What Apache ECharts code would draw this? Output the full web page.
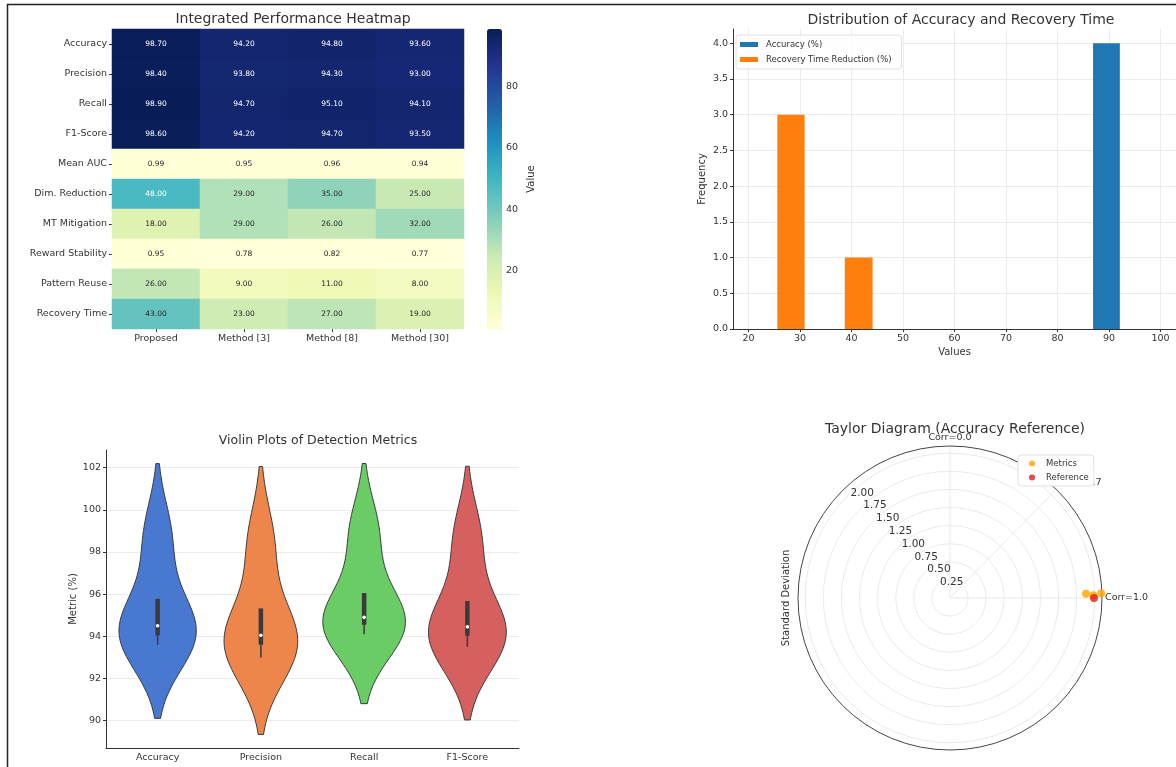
<!DOCTYPE html>
<html>
<head>
<meta charset="utf-8">
<script src="https://cdn.jsdelivr.net/npm/echarts@6/dist/echarts.min.js"></script>
<style>
  html, body { margin: 0; padding: 0; background: #fff; }
  #chart { width: 1176px; height: 767px; }
</style>
</head>
<body>
<div id="chart"></div>
<script>
// ---- heatmap data ----
const methods = ['Proposed', 'Method [3]', 'Method [8]', 'Method [30]'];
const metricRows = ['Accuracy', 'Precision', 'Recall', 'F1-Score', 'Mean AUC', 'Dim. Reduction',
  'MT Mitigation', 'Reward Stability', 'Pattern Reuse', 'Recovery Time'];
const accuracy = [98.7, 94.2, 94.8, 93.6];
const precision = [98.4, 93.8, 94.3, 93.0];
const recall = [98.9, 94.7, 95.1, 94.1];
const f1Score = [98.6, 94.2, 94.7, 93.5];
const meanAuc = [0.99, 0.95, 0.96, 0.94];
const dimReduction = [48, 29, 35, 25];
const mtMitigation = [18, 29, 26, 32];
const rewardStability = [0.95, 0.78, 0.82, 0.77];
const patternReuse = [26, 9, 11, 8];
const recoveryTime = [43, 23, 27, 19];
const colorbarTicks = [20, 40, 60, 80];

// ---- histogram data: [left edge, right edge, count] ----
const accuracyBins = [[86.9, 92.1, 4]];
const recoveryBins = [[25.6, 30.9, 3], [38.7, 44.1, 1]];
const histXTicks = [20, 30, 40, 50, 60, 70, 80, 90, 100];
const histYTicks = [0, 0.5, 1, 1.5, 2, 2.5, 3, 3.5, 4];

// ---- violin data (samples are the heatmap columns) ----
const violinNames = ['Accuracy', 'Precision', 'Recall', 'F1-Score'];
const violinYTicks = [90, 92, 94, 96, 98, 100, 102];

// ---- taylor diagram ----
const taylorMetricStd = [2.09, 1.88, 1.98];
const taylorMetricCorr = [0.9995, 0.9995, 0.9998];
const taylorRefStd = [1.99];
const taylorRefCorr = [1.0];
const corrTicks = [0.0, 0.7, 1.0];
const stdTicks = [0.25, 0.5, 0.75, 1.0, 1.25, 1.5, 1.75, 2.0];

const YlGnBu = ['#ffffd9', '#edf8b1', '#c7e9b4', '#7fcdbb', '#41b6c4', '#1d91c0', '#225ea8', '#253494', '#081d58'];
const violinColors = ['#4878d0', '#ee854a', '#6acc64', '#d65f5f'];
const FONT = 'DejaVu Sans';

function hexToRgb(h) { return [1, 3, 5].map(i => parseInt(h.slice(i, i + 2), 16)); }
function cmap(t) {
  t = Math.max(0, Math.min(1, t));
  const s = t * (YlGnBu.length - 1);
  const i = Math.min(Math.floor(s), YlGnBu.length - 2);
  const f = s - i;
  const a = hexToRgb(YlGnBu[i]), b = hexToRgb(YlGnBu[i + 1]);
  return a.map((v, k) => v + (b[k] - v) * f);
}
function luminance(rgb) {
  const c = rgb.map(v => { v /= 255; return v <= 0.03928 ? v / 12.92 : Math.pow((v + 0.055) / 1.055, 2.4); });
  return 0.2126 * c[0] + 0.7152 * c[1] + 0.0722 * c[2];
}

const heatRows = [accuracy, precision, recall, f1Score, meanAuc, dimReduction, mtMitigation,
  rewardStability, patternReuse, recoveryTime];
const allHeat = heatRows.flat();
const heatMin = Math.min(...allHeat), heatMax = Math.max(...allHeat);
const heatData = [];
heatRows.forEach((row, r) => row.forEach((v, c) => {
  const lum = luminance(cmap((v - heatMin) / (heatMax - heatMin)));
  heatData.push({ value: [c, r, v], label: { color: lum > 0.408 ? '#262626' : '#ffffff' } });
}));

// kde like seaborn violinplot (scott bandwidth, cut=2, gridsize=100)
function percentile(sorted, p) {
  const idx = (sorted.length - 1) * p;
  const lo = Math.floor(idx), hi = Math.ceil(idx);
  return sorted[lo] + (sorted[hi] - sorted[lo]) * (idx - lo);
}
function violinStat(sample) {
  const n = sample.length;
  const mean = sample.reduce((a, b) => a + b, 0) / n;
  const sd = Math.sqrt(sample.reduce((a, b) => a + (b - mean) * (b - mean), 0) / (n - 1));
  const bw = Math.pow(n, -1 / 5) * sd;
  const sorted = sample.slice().sort((a, b) => a - b);
  const lo = sorted[0] - 2 * bw, hi = sorted[n - 1] + 2 * bw;
  const support = [], density = [];
  for (let k = 0; k < 100; k++) {
    const y = lo + (hi - lo) * k / 99;
    let d = 0;
    sample.forEach(x => { d += Math.exp(-0.5 * Math.pow((y - x) / bw, 2)); });
    support.push(y);
    density.push(d / (n * bw * Math.sqrt(2 * Math.PI)));
  }
  const q1 = percentile(sorted, 0.25), q3 = percentile(sorted, 0.75);
  const iqr = q3 - q1;
  const w1 = Math.min(...sorted.filter(v => v >= q1 - 1.5 * iqr));
  const w2 = Math.max(...sorted.filter(v => v <= q3 + 1.5 * iqr));
  return { support, density, q1, q3, median: percentile(sorted, 0.5), w1, w2, lo, hi };
}
const violinStats = [accuracy, precision, recall, f1Score].map(violinStat);
const maxDensity = Math.max(...violinStats.map(s => Math.max(...s.density)));
const vLo = Math.min(...violinStats.map(s => s.lo)), vHi = Math.max(...violinStats.map(s => s.hi));
const vPad = (vHi - vLo) * 0.05;

const toDeg = c => Math.acos(Math.min(1, c)) * 180 / Math.PI;

const axisText = { color: '#333', fontFamily: FONT };
const gridLine = { show: true, lineStyle: { color: '#ebebeb', width: 1 } };

const chart = echarts.init(document.getElementById('chart'));
chart.setOption({
  animation: false,
  textStyle: { fontFamily: FONT },
  title: [
    { text: 'Integrated Performance Heatmap', left: 288, top: 7, textAlign: 'center',
      textStyle: { fontSize: 14, fontWeight: 'normal', color: '#333', fontFamily: FONT } },
    { text: 'Distribution of Accuracy and Recovery Time', left: 956, top: 8, textAlign: 'center',
      textStyle: { fontSize: 14, fontWeight: 'normal', color: '#333', fontFamily: FONT } },
    { text: 'Violin Plots of Detection Metrics', left: 313, top: 429, textAlign: 'center',
      textStyle: { fontSize: 12.5, fontWeight: 'normal', color: '#333', fontFamily: FONT } },
    { text: 'Taylor Diagram (Accuracy Reference)', left: 950, top: 417, textAlign: 'center',
      textStyle: { fontSize: 14, fontWeight: 'normal', color: '#333', fontFamily: FONT } }
  ],
  legend: [
    { data: ['Accuracy (%)', 'Recovery Time Reduction (%)'], orient: 'vertical', left: 736, top: 35,
      icon: 'rect', itemWidth: 18, itemHeight: 5, itemGap: 6, padding: [5, 10, 5, 4],
      backgroundColor: 'rgba(255,255,255,0.85)', borderColor: '#e0e0e0', borderWidth: 1, borderRadius: 3,
      textStyle: { fontSize: 8.5, color: '#333', fontFamily: FONT, padding: [0, 0, 0, 3] } },
    { data: ['Metrics', 'Reference'], orient: 'vertical', left: 1018, top: 455,
      icon: 'circle', itemWidth: 6, itemHeight: 6, itemGap: 5, padding: [4, 5, 4, 11],
      backgroundColor: '#fff', borderColor: '#e0e0e0', borderWidth: 1, borderRadius: 3,
      textStyle: { fontSize: 8.5, color: '#333', fontFamily: FONT, padding: [0, 0, 0, 6] } }
  ],
  visualMap: {
    type: 'continuous', min: heatMin, max: heatMax, seriesIndex: 0, dimension: 2,
    inRange: { color: YlGnBu }, left: 487, top: 29, itemWidth: 15, itemHeight: 300,
    padding: 0, calculable: false, hoverLink: false, text: null
  },
  grid: [
    { left: 112, top: 29, width: 352, height: 300 },
    { left: 487, top: 29, width: 15, height: 300 },
    { left: 733, top: 29, width: 448, height: 300 },
    { left: 106, top: 450, width: 413, height: 298 }
  ],
  xAxis: [
    { type: 'category', gridIndex: 0, data: methods, axisLine: { show: false },
      axisTick: { show: true, alignWithLabel: true, length: 3, lineStyle: { color: '#333' } },
      axisLabel: Object.assign({ fontSize: 9.5, margin: 5 }, axisText) },
    { type: 'value', gridIndex: 1, show: false, min: 0, max: 1 },
    { type: 'value', gridIndex: 2, min: 17, max: 103,
      axisLine: { lineStyle: { color: '#333' } },
      axisTick: { customValues: histXTicks, length: 3, lineStyle: { color: '#333' } },
      axisLabel: Object.assign({ customValues: histXTicks, fontSize: 9.5, margin: 5 }, axisText),
      splitLine: gridLine,
      name: 'Values', nameLocation: 'middle', nameGap: 18,
      nameTextStyle: { fontSize: 10, color: '#333', fontFamily: FONT } },
    { type: 'category', gridIndex: 3, data: violinNames,
      axisLine: { lineStyle: { color: '#333' } },
      axisTick: { alignWithLabel: true, length: 3, lineStyle: { color: '#333' } },
      axisLabel: Object.assign({ fontSize: 9.5, margin: 5 }, axisText) }
  ],
  yAxis: [
    { type: 'category', gridIndex: 0, data: metricRows, inverse: true, axisLine: { show: false },
      axisTick: { show: true, alignWithLabel: true, length: 3, lineStyle: { color: '#333' } },
      axisLabel: Object.assign({ fontSize: 9.5, margin: 5 }, axisText) },
    { type: 'value', gridIndex: 1, position: 'right', min: heatMin, max: heatMax,
      axisLine: { show: false }, splitLine: { show: false },
      axisTick: { show: true, customValues: colorbarTicks, length: 3, lineStyle: { color: '#333' } },
      axisLabel: Object.assign({ customValues: colorbarTicks, fontSize: 9.5, margin: 4 }, axisText),
      name: 'Value', nameLocation: 'middle', nameGap: 24, nameRotate: 90,
      nameTextStyle: { fontSize: 10, color: '#333', fontFamily: FONT } },
    { type: 'value', gridIndex: 2, min: 0, max: 4.2,
      axisLine: { show: true, lineStyle: { color: '#333' } },
      axisTick: { show: true, customValues: histYTicks, length: 3, lineStyle: { color: '#333' } },
      axisLabel: Object.assign({ customValues: histYTicks, fontSize: 9.5, margin: 5,
        formatter: v => v.toFixed(1) }, axisText),
      splitLine: gridLine,
      name: 'Frequency', nameLocation: 'middle', nameGap: 26,
      nameTextStyle: { fontSize: 10, color: '#333', fontFamily: FONT } },
    { type: 'value', gridIndex: 3, min: vLo - vPad, max: vHi + vPad,
      axisLine: { show: true, lineStyle: { color: '#333' } },
      axisTick: { show: true, customValues: violinYTicks, length: 3, lineStyle: { color: '#333' } },
      axisLabel: Object.assign({ customValues: violinYTicks, fontSize: 9.5, margin: 5 }, axisText),
      splitLine: gridLine,
      name: 'Metric (%)', nameLocation: 'middle', nameGap: 28,
      nameTextStyle: { fontSize: 10, color: '#333', fontFamily: FONT } }
  ],
  polar: { center: [950, 598], radius: 152 },
  angleAxis: {
    type: 'value', min: -225, max: 135, startAngle: 135, clockwise: false,
    axisLine: { show: true, lineStyle: { color: '#444', width: 1 } },
    axisTick: { show: false, customValues: corrTicks.map(toDeg) },
    axisLabel: Object.assign({ customValues: corrTicks.map(toDeg), fontSize: 9.5, margin: 3,
      formatter: v => 'Corr=' + Math.abs(Math.cos(v * Math.PI / 180)).toFixed(1) }, axisText),
    splitLine: { show: true, lineStyle: { color: '#e9e9e9', width: 1 } }
  },
  radiusAxis: {
    type: 'value', min: 0, max: 2.1,
    axisLine: { show: false },
    axisTick: { show: false, customValues: stdTicks },
    axisLabel: Object.assign({ customValues: stdTicks, fontSize: 10.5, margin: -4,
      align: 'left', verticalAlign: 'middle', formatter: v => v.toFixed(2) }, axisText),
    splitLine: { show: true, lineStyle: { color: '#e9e9e9', width: 1 } }
  },
  graphic: [
    { type: 'line', shape: { x1: 7, y1: 4.5, x2: 1176, y2: 4.5 }, style: { stroke: '#222', lineWidth: 1.5 }, silent: true },
    { type: 'line', shape: { x1: 7.5, y1: 4, x2: 7.5, y2: 767 }, style: { stroke: '#222', lineWidth: 1.5 }, silent: true },
    { type: 'text', x: 786, y: 598, rotation: Math.PI / 2,
      style: { text: 'Standard Deviation', font: '10px "DejaVu Sans"', fill: '#333',
        align: 'center', verticalAlign: 'middle', textAlign: 'center', textVerticalAlign: 'middle' } }
  ],
  series: [
    { type: 'heatmap', xAxisIndex: 0, yAxisIndex: 0, data: heatData,
      label: { show: true, fontSize: 7.5, fontFamily: FONT, formatter: p => p.value[2].toFixed(2) },
      emphasis: { disabled: true } },
    { name: 'Accuracy (%)', type: 'custom', xAxisIndex: 2, yAxisIndex: 2,
      itemStyle: { color: '#1f77b4' }, data: accuracyBins, encode: { x: [0, 1], y: 2 },
      renderItem: histRect },
    { name: 'Recovery Time Reduction (%)', type: 'custom', xAxisIndex: 2, yAxisIndex: 2,
      itemStyle: { color: '#ff7f0e' }, data: recoveryBins, encode: { x: [0, 1], y: 2 },
      renderItem: histRect },
    { type: 'custom', xAxisIndex: 3, yAxisIndex: 3,
      data: violinStats.map((s, i) => [i, s.median]), encode: { x: 0, y: 1 },
      renderItem: violinShape },
    { name: 'Metrics', type: 'scatter', coordinateSystem: 'polar', symbolSize: 8,
      itemStyle: { color: '#ffa500' },
      data: taylorMetricStd.map((s, i) => [s, toDeg(taylorMetricCorr[i])]) },
    { name: 'Reference', type: 'scatter', coordinateSystem: 'polar', symbolSize: 8,
      itemStyle: { color: '#e41a1c' },
      data: taylorRefStd.map((s, i) => [s, toDeg(taylorRefCorr[i])]) }
  ]
});

function histRect(params, api) {
  const p0 = api.coord([api.value(0), api.value(2)]);
  const p1 = api.coord([api.value(1), 0]);
  return { type: 'rect', shape: { x: p0[0], y: p0[1], width: p1[0] - p0[0], height: p1[1] - p0[1] },
    style: { fill: api.visual('color') } };
}

function violinShape(params, api) {
  const i = api.value(0);
  const s = violinStats[i];
  const band = api.size([1, 0])[0];
  const cx = api.coord([i, s.median])[0];
  const right = [], left = [];
  s.support.forEach((y, k) => {
    const py = api.coord([i, y])[1];
    const hw = s.density[k] / maxDensity * 0.4 * band;
    right.push([cx + hw, py]);
    left.push([cx - hw, py]);
  });
  const pts = right.concat(left.reverse());
  const gray = '#3a3a3a';
  const y = v => api.coord([i, v])[1];
  return {
    type: 'group',
    children: [
      { type: 'polygon', shape: { points: pts }, style: { fill: violinColors[i], stroke: gray, lineWidth: 1 } },
      { type: 'line', shape: { x1: cx, y1: y(s.w1), x2: cx, y2: y(s.w2) }, style: { stroke: gray, lineWidth: 1.5 } },
      { type: 'line', shape: { x1: cx, y1: y(s.q1), x2: cx, y2: y(s.q3) }, style: { stroke: gray, lineWidth: 4.5 } },
      { type: 'circle', shape: { cx: cx, cy: y(s.median), r: 1.8 }, style: { fill: '#fff' } }
    ]
  };
}
</script>
</body>
</html>
